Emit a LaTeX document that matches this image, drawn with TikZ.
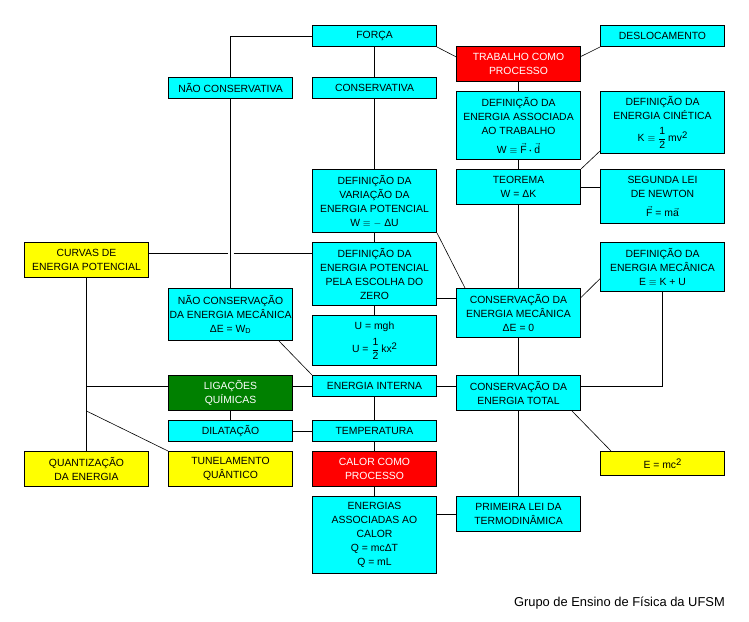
\documentclass[tikz,border=0pt]{standalone}
\usepackage{amsmath}
\usepackage{fontspec}
\setmainfont{Liberation Sans}
\usetikzlibrary{calc}
\definecolor{cy}{RGB}{0,255,255}
\definecolor{rd}{RGB}{255,0,0}
\definecolor{gr}{RGB}{0,128,0}
\definecolor{ye}{RGB}{255,255,0}
\newcommand{\suptwo}{\raisebox{0.55ex}{\fontsize{9.5}{9.5}\selectfont 2}}
\newcommand{\half}{$\dfrac{\text{1}}{\text{2}}$}
\begin{document}
\begin{tikzpicture}[x=1pt,y=-1pt,
  box/.style={draw=black, line width=1pt, rectangle, anchor=north west,
    minimum width=124pt, inner sep=0pt, align=center,
    font=\fontsize{10.4}{14}\selectfont, text=black},
  cbox/.style={box, fill=cy},
  rbox/.style={box, fill=rd, text=white},
  gbox/.style={box, fill=gr, text=white},
  ybox/.style={box, fill=ye},
  ln/.style={line width=1pt},
  dl/.style={line width=0.6pt}]
\useasboundingbox (0,0) rectangle (749,621);

% nodes
\node[cbox, minimum height=21pt] (forca) at (312,25) {FORÇA};
\node[rbox, minimum height=35pt] (trab) at (456,46) {TRABALHO COMO\\PROCESSO};
\node[cbox, minimum height=21pt] (desl) at (600,25) {DESLOCAMENTO};
\node[cbox, minimum height=21pt] (ncons) at (168,77) {NÃO CONSERVATIVA};
\node[cbox, minimum height=21pt] (cons) at (312,77) {CONSERVATIVA};
\node[cbox, minimum height=68pt] (assoc) at (456,91) {DEFINIÇÃO DA\\ENERGIA ASSOCIADA\\AO TRABALHO\\[5pt]W $\equiv$ $\vec{\text{F}}\boldsymbol{\cdot}\vec{\text{d}}$};
\node[cbox, minimum height=62pt] (cin) at (600,91) {DEFINIÇÃO DA\\ENERGIA CINÉTICA\\[7pt]K $\equiv$ \half\,mv\suptwo};
\node[cbox, minimum height=63pt] (defvar) at (312,169) {DEFINIÇÃO DA\\VARIAÇÃO DA\\ENERGIA POTENCIAL\\W $\equiv$ $-$ ΔU};
\node[cbox, minimum height=35pt] (teo) at (456,169) {TEOREMA\\W = ΔK};
\node[cbox, minimum height=54pt] (seg) at (600,169) {SEGUNDA LEI\\DE NEWTON\\[5pt]$\vec{\text{F}}$ = m$\vec{\text{a}}$};
\node[ybox, minimum height=35pt] (curvas) at (24,242) {CURVAS DE\\ENERGIA POTENCIAL};
\node[cbox, minimum height=63pt] (defep) at (312,242) {DEFINIÇÃO DA\\ENERGIA POTENCIAL\\PELA ESCOLHA DO\\ZERO};
\node[cbox, minimum height=49pt] (defmec) at (600,242) {DEFINIÇÃO DA\\ENERGIA MECÂNICA\\E $\equiv$ K + U};
\node[cbox, minimum height=52pt] (ncmec) at (168,288) {NÃO CONSERVAÇÃO\\DA ENERGIA MECÂNICA\\ΔE = W$_{\text{D}}$};
\node[cbox, minimum height=49pt] (consmec) at (456,288) {CONSERVAÇÃO DA\\ENERGIA MECÂNICA\\ΔE = 0};
\node[cbox, minimum height=50pt] (ueq) at (312,315) {U = mgh\\[6pt]U = \half\,kx\suptwo};
\node[gbox, minimum height=35pt] (lig) at (168,375) {LIGAÇÕES\\QUÍMICAS};
\node[cbox, minimum height=21pt] (enint) at (312,375) {ENERGIA INTERNA};
\node[cbox, minimum height=35pt] (constot) at (456,375) {CONSERVAÇÃO DA\\ENERGIA TOTAL};
\node[cbox, minimum height=21pt] (dilat) at (168,420) {DILATAÇÃO};
\node[cbox, minimum height=21pt] (temp) at (312,420) {TEMPERATURA};
\node[ybox, minimum height=35pt] (quant) at (24,451) {QUANTIZAÇÃO\\DA ENERGIA};
\node[ybox, minimum height=35pt] (tunel) at (168,451) {TUNELAMENTO\\QUÂNTICO};
\node[rbox, minimum height=35pt] (calor) at (312,451) {CALOR COMO\\PROCESSO};
\node[ybox, minimum height=24pt] (emc) at (600,451) {E = mc\suptwo};
\node[cbox, minimum height=77pt] (energias) at (312,496) {ENERGIAS\\ASSOCIADAS AO\\CALOR\\Q = mcΔT\\Q = mL};
\node[cbox, minimum height=35pt] (prim) at (456,496) {PRIMEIRA LEI DA\\TERMODINÂMICA};
\node[anchor=base east, inner sep=0pt, font=\fontsize{12.9}{14}\selectfont] (grupo) at (725,606) {Grupo de Ensino de Física da UFSM};

% connectors
\draw[ln] (forca.west) -| (ncons.north);
\draw[ln] (forca.south) -- (cons.north);
\draw[ln] (cons.south) -- (defvar.north);
\draw[dl] (forca.south east) -- ($(trab.north west)!0.3!(trab.south west)$);
\draw[dl] (desl.south west) -- ($(trab.north east)!0.29!(trab.south east)$);
\draw[ln] (trab.south) -- (assoc.north);
\draw[ln] (assoc.south) -- (teo.north);
\draw[dl] (teo.north east) -- ($(cin.south west)+(0,-3)$);
\draw[ln] (teo.east) -- (teo.east -| seg.west);
\draw[ln] (teo.south) -- (consmec.north);
\draw[ln] (defvar.south) -- (defep.north);
\draw[dl] (defvar.south east) -- ($(consmec.north west)+(9,0)$);
\coordinate (cv) at ($(curvas.north east)+(0,11)$);
\draw[ln] (cv) -- ($(cv -| ncons.south)+(-2.5,0)$);
\draw[ln] ($(cv -| ncons.south)+(3,0)$) -- (cv -| defep.west);
\draw[ln] (ncons.south) -- (ncmec.north);
\coordinate (ep) at ($(defep.south east)+(0,-8)$);
\draw[ln] (ep) -- (ep -| consmec.west);
\draw[ln] (defep.south) -- (ueq.north);
\draw[dl] ($(defmec.north west)+(0,36.7)$) -- ($(consmec.north east)+(0,9.5)$);
\draw[ln] (defmec.south) |- (constot.east |- enint.east);
\draw[ln] (consmec.south) -- (constot.north);
\draw[dl] ($(ncmec.south east)+(-14,0)$) -- (enint.north west);
\draw[ln] (curvas.south) -- (quant.north);
\draw[ln] (curvas.south |- enint.west) -- (lig.west |- enint.west);
\draw[dl] (curvas.south |- lig.south) -- (tunel.north west);
\draw[ln] (lig.east |- enint.west) -- (enint.west);
\draw[ln] (lig.south) -- (dilat.north);
\draw[ln] (enint.east) -- (enint.east -| constot.west);
\draw[ln] (enint.south) -- (temp.north);
\draw[ln] (dilat.east) -- (temp.west);
\draw[ln] (temp.south) -- (calor.north);
\draw[ln] (calor.south) -- (energias.north);
\draw[ln] (prim.west -| energias.east) -- (prim.west);
\draw[ln] (constot.south) -- (prim.north);
\draw[dl] ($(constot.south east)+(-9,0)$) -- ($(emc.north west)+(11,0)$);
\end{tikzpicture}
\end{document}
